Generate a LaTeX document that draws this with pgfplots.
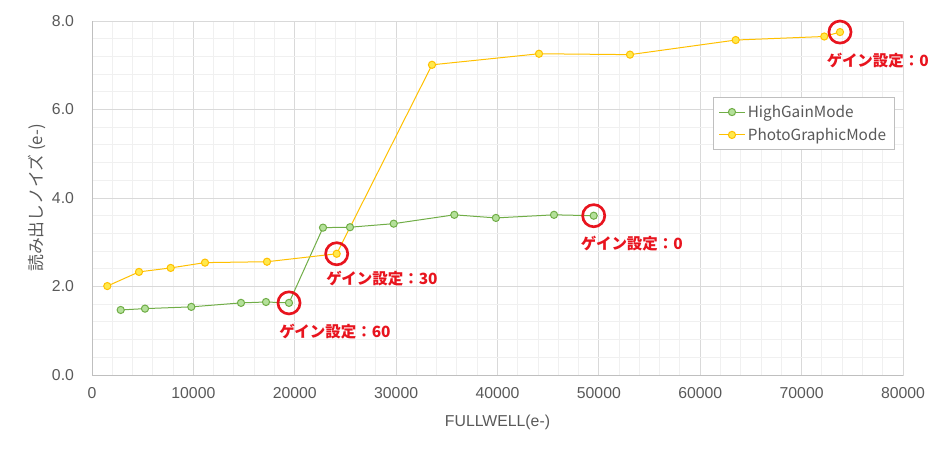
\documentclass[border=0pt]{standalone}
\usepackage{pgfplots}
\pgfplotsset{compat=1.18}
\usepackage{fontspec}
\setmainfont{Liberation Sans}
\newfontfamily\jp{Noto Sans CJK JP}
\definecolor{txt}{HTML}{595959}
\definecolor{majgrid}{HTML}{D9D9D9}
\definecolor{mingrid}{HTML}{F0F0F0}
\definecolor{axisc}{HTML}{BFBFBF}
\definecolor{hg}{HTML}{70AD47}
\definecolor{hgfill}{HTML}{B4E09A}
\definecolor{pg}{HTML}{FFC000}
\definecolor{pgfill}{HTML}{FFE94D}
\definecolor{redc}{HTML}{E8141E}

\begin{document}
\begin{tikzpicture}
\path[use as bounding box] (0,0) rectangle (708.75pt,340.5pt);
\begin{axis}[
  at={(69pt,59.25pt)}, anchor=south west,
  scale only axis, width=608.25pt, height=265.5pt,
  xmin=0, xmax=80000, ymin=0, ymax=8,
  xtick={0,10000,...,80000}, ytick={0,2,...,8},
  minor x tick num=4, minor y tick num=4,
  grid=both,
  major grid style={color=majgrid, line width=0.75pt},
  minor grid style={color=mingrid, line width=0.75pt},
  axis line style={color=majgrid, line width=0.75pt},
  tick style={draw=none},
  scaled ticks=false,
  clip=false,
  /pgf/number format/assume math mode=true,
  tick label style={font=\fontsize{11.85}{14}\selectfont, text=txt},
  xticklabel style={/pgf/number format/1000 sep={}},
  yticklabel style={/pgf/number format/.cd, fixed, fixed zerofill, precision=1},
  xticklabel shift=6pt,
  yticklabel shift=10pt,
  xlabel={FULLWELL(e-)},
  xlabel style={at={(axis description cs:0.5,-0.1328)}, anchor=center, font=\fontsize{11.85}{14}\selectfont, text=txt},
  ylabel={\jp\fontsize{12.6}{14}\selectfont 読み出しノイズ (e-)},
  ylabel style={at={(axis description cs:-0.0678,0.50)}, anchor=center, text=txt},
  legend style={at={(axis description cs:0.7657,0.785)}, anchor=north west,
    draw=axisc, line width=0.75pt, text=txt, font=\jp\fontsize{11.5}{13}\selectfont,
    row sep=2.5pt, inner xsep=4pt, inner ysep=3.5pt},
  legend cell align=left,
  legend image code/.code={\draw[mark repeat=2,mark phase=2] plot coordinates {(0pt,0pt) (9.5pt,0pt) (19pt,0pt)};},
]
\draw[axisc, line width=0.75pt] (axis cs:0,8) -- (axis cs:0,0) -- (axis cs:80000,0);

\addplot[color=hg, line width=0.75pt, mark=*, mark size=2.7pt,
  mark options={draw=hg, fill=hgfill, line width=0.75pt}] coordinates {
  (2831,1.47) (5228,1.50) (9795,1.54) (14698,1.63) (17164,1.65) (19433,1.63)
  (22787,3.33) (25450,3.34) (29761,3.42) (35739,3.62) (39842,3.55) (45573,3.62) (49489,3.60)
};
\addlegendentry{HighGainMode}

\addplot[color=pg, line width=0.75pt, mark=*, mark size=2.7pt,
  mark options={draw=pg, fill=pgfill, line width=0.75pt}] coordinates {
  (1509,2.01) (4636,2.33) (7763,2.42) (11147,2.54) (17263,2.56) (24138,2.74)
  (33539,7.01) (44094,7.26) (53070,7.24) (63497,7.57) (72232,7.65) (73785,7.75)
};
\addlegendentry{PhotoGraphicMode}

\addplot[forget plot, only marks, mark=o, mark size=8.3pt,
  mark options={draw=redc, line width=2pt}] coordinates {
  (19433,1.63) (24138,2.74) (49489,3.60) (73785,7.75)
};

\begin{scope}[every node/.style={text=redc, font=\jp\bfseries\fontsize{11.6}{13}\selectfont, anchor=center, inner sep=0pt}]
\node at (axis cs:23965,0.99) {ゲイン設定：60};
\node at (axis cs:28600,2.17) {ゲイン設定：30};
\node at (axis cs:53254,2.98) {ゲイン設定：0};
\node at (axis cs:77515,7.10) {ゲイン設定：0};
\end{scope}
\end{axis}
\end{tikzpicture}
\end{document}
